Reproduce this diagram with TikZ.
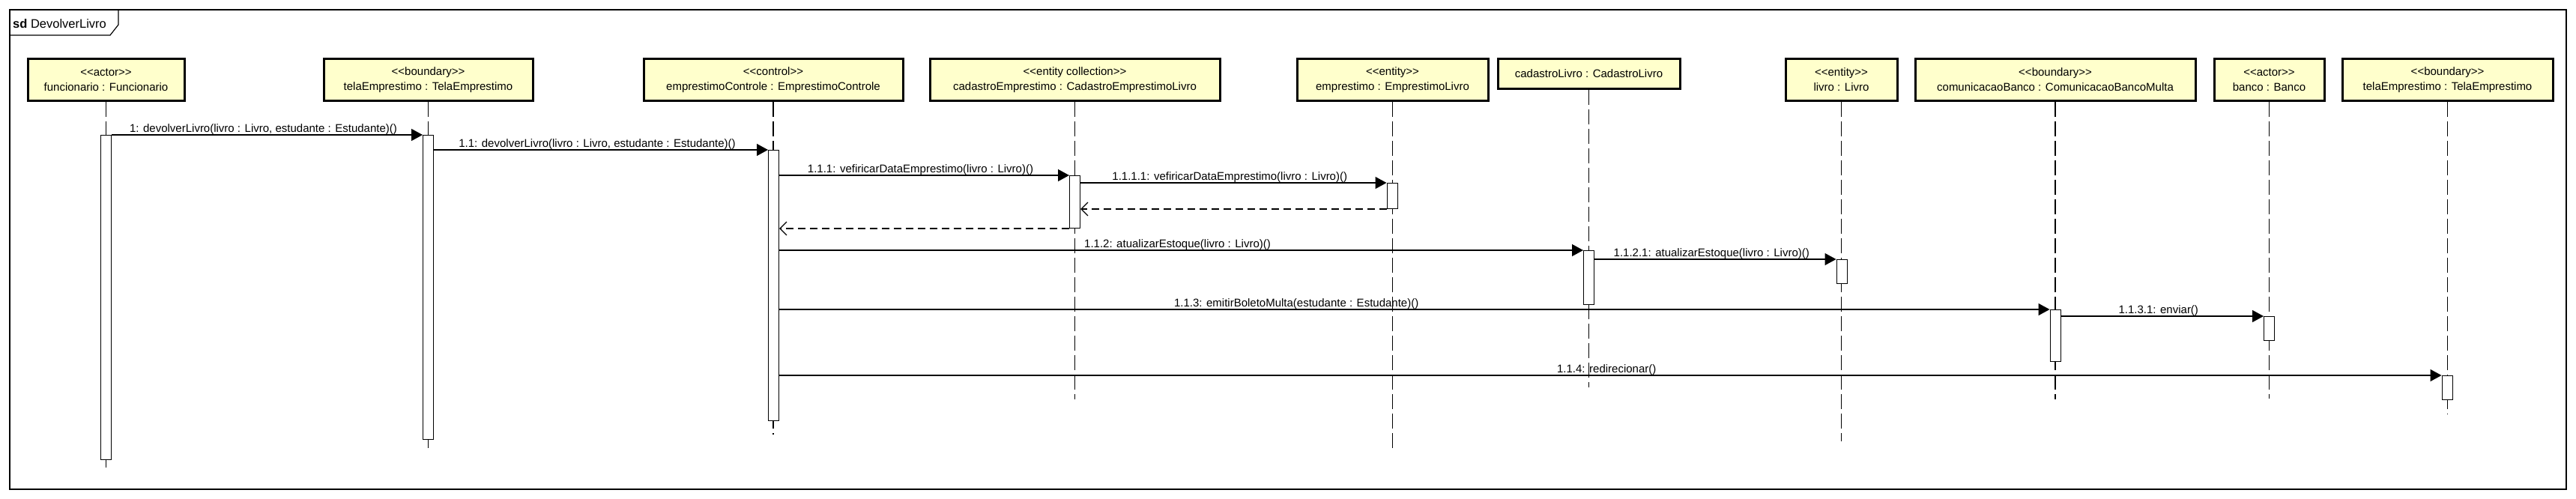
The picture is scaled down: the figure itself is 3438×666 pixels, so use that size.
\documentclass[tikz,border=0pt]{standalone}
\usepackage{fontspec}
\setmainfont{Liberation Sans}
\usetikzlibrary{arrows.meta}
\definecolor{headfill}{HTML}{FFFFCC}
\begin{document}
\begin{tikzpicture}[x=1pt,y=-1pt,
  every node/.style={font=\fontsize{15}{20}\selectfont},
  head/.style={draw, line width=3pt, fill=headfill, inner sep=0pt, align=center, anchor=north, minimum height=56pt},
  lifeline/.style={line width=1.6pt, dash pattern=on 20pt off 6pt},
  act/.style={draw, fill=white, line width=1pt, minimum width=14pt, inner sep=0pt, anchor=north},
  msg/.style={line width=1.3pt, -{Triangle[length=15pt,width=16pt]}},
  ret/.style={line width=1.3pt, dash pattern=on 10pt off 6pt, -{Straight Barb[length=9pt,width=18pt,line width=1.3pt]}},
  lbl/.style={anchor=base, inner sep=0pt, yshift=4pt, xshift=-5pt}
]
\useasboundingbox (0,0) rectangle (3438,666);
% frame
\draw[line width=1.5pt] (13,13) rectangle (3425,653);
\draw[line width=1.2pt] (13,47) -- (147,47) -- (158,33) -- (158,13);
\node[anchor=west, inner sep=0pt, font=\fontsize{16.5}{20}\selectfont] (title) at (17,32) {\textbf{sd} DevolverLivro};
% heads
\node[head, minimum width=209pt] (h1) at (141.5,77) {<{}<actor>{}>\\funcionario : Funcionario};
\node[head, minimum width=279pt] (h2) at (571.5,77) {<{}<boundary>{}>\\telaEmprestimo : TelaEmprestimo};
\node[head, minimum width=346pt] (h3) at (1032,77) {<{}<control>{}>\\emprestimoControle : EmprestimoControle};
\node[head, minimum width=387pt] (h4) at (1434.5,77) {<{}<entity collection>{}>\\cadastroEmprestimo : CadastroEmprestimoLivro};
\node[head, minimum width=255pt] (h5) at (1858.5,77) {<{}<entity>{}>\\emprestimo : EmprestimoLivro};
\node[head, minimum width=243pt, minimum height=40pt] (h6) at (2120.5,77) {cadastroLivro : CadastroLivro};
\node[head, minimum width=149pt] (h7) at (2457.5,77) {<{}<entity>{}>\\livro : Livro};
\node[head, minimum width=374pt] (h8) at (2743,77) {<{}<boundary>{}>\\comunicacaoBanco : ComunicacaoBancoMulta};
\node[head, minimum width=147pt] (h9) at (3028.5,77) {<{}<actor>{}>\\banco : Banco};
\node[head, minimum width=281pt] (h10) at (3266.5,77) {<{}<boundary>{}>\\telaEmprestimo : TelaEmprestimo};
% lifelines
\draw[lifeline] (h1.south) -- (h1.south |- 0,628);
\draw[lifeline] (h2.south) -- (h2.south |- 0,604);
\draw[lifeline] (h3.south) -- (h3.south |- 0,580);
\draw[lifeline] (h4.south) -- (h4.south |- 0,533);
\draw[lifeline] (h5.south) -- (h5.south |- 0,603);
\draw[lifeline] (h6.south) -- (h6.south |- 0,517);
\draw[lifeline] (h7.south) -- (h7.south |- 0,589);
\draw[lifeline] (h8.south) -- (h8.south |- 0,533);
\draw[lifeline] (h9.south) -- (h9.south |- 0,532);
\draw[lifeline] (h10.south) -- (h10.south |- 0,553);
% activations
\node[act, minimum height=433pt] (a1) at (141.5,180) {};
\node[act, minimum height=406pt] (a2) at (571.5,180) {};
\node[act, minimum height=361pt] (a3) at (1032.5,200) {};
\node[act, minimum height=70pt] (a4) at (1434.5,234) {};
\node[act, minimum height=34pt] (a5) at (1858,244) {};
\node[act, minimum height=72pt] (a6) at (2120.5,334) {};
\node[act, minimum height=32pt] (a7) at (2458,346) {};
\node[act, minimum height=69pt] (a8) at (2743,413) {};
\node[act, minimum height=32pt] (a9) at (3028.5,422) {};
\node[act, minimum height=32pt] (a10) at (3266,501) {};
% messages
\draw[msg] (a1.north east) -- (a2.north west) node[midway, lbl] {1: devolverLivro(livro : Livro, estudante : Estudante)()};
\draw[msg] (a2.east |- a3.north) -- (a3.north west) node[midway, lbl] {1.1: devolverLivro(livro : Livro, estudante : Estudante)()};
\draw[msg] (a3.east |- a4.north) -- (a4.north west) node[midway, lbl] {1.1.1: vefiricarDataEmprestimo(livro : Livro)()};
\draw[msg] (a4.east |- a5.north) -- (a5.north west) node[midway, lbl] {1.1.1.1: vefiricarDataEmprestimo(livro : Livro)()};
\draw[ret] (a5.south west) -- (a4.east |- a5.south);
\draw[ret] (a4.south west) -- (a3.east |- a4.south);
\draw[msg] (a3.east |- a6.north) -- (a6.north west) node[midway, lbl] {1.1.2: atualizarEstoque(livro : Livro)()};
\draw[msg] (a6.east |- a7.north) -- (a7.north west) node[midway, lbl] {1.1.2.1: atualizarEstoque(livro : Livro)()};
\draw[msg] (a3.east |- a8.north) -- (a8.north west) node[pos=0.41, lbl] {1.1.3: emitirBoletoMulta(estudante : Estudante)()};
\draw[msg] (a8.east |- a9.north) -- (a9.north west) node[midway, lbl] {1.1.3.1: enviar()};
\draw[msg] (a3.east |- a10.north) -- (a10.north west) node[midway, lbl] {1.1.4: redirecionar()};
\end{tikzpicture}
\end{document}
